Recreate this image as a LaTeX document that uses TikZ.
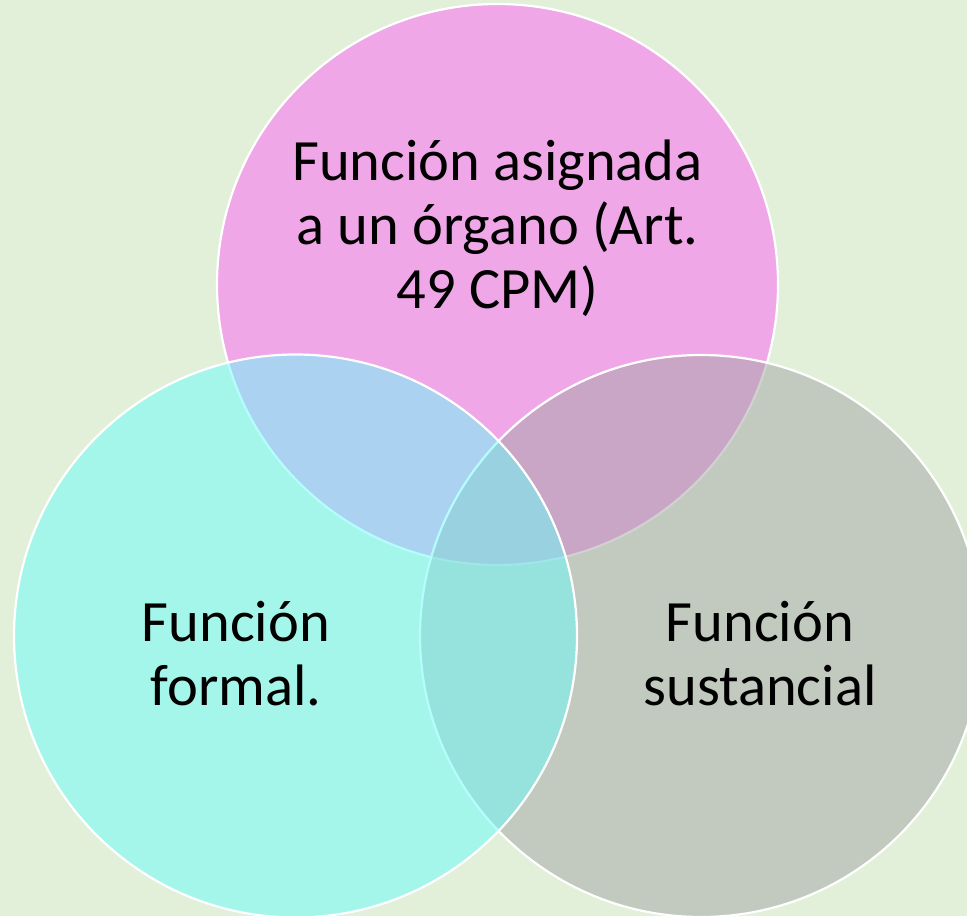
\documentclass[tikz,border=0pt]{standalone}
\usepackage{fontspec}
\setmainfont{Carlito}
\definecolor{bg}{RGB}{226,239,217}
\definecolor{pinkc}{RGB}{254,97,247}
\definecolor{grayc}{RGB}{164,165,165}
\definecolor{cyanc}{RGB}{106,253,251}
\begin{document}
\begin{tikzpicture}[x=1pt,y=-1pt,
  venn/.style={circle, draw=white, line width=2.2pt, fill opacity=0.5, draw opacity=1, inner sep=0pt},
  lbl/.style={align=center, text=black, font=\fontsize{58.5}{64}\selectfont, inner sep=0pt}]
\fill[bg] (0,0) rectangle (967,916);
\useasboundingbox (0,0) rectangle (967,916);
\node[venn, fill=pinkc, minimum size=561pt] (top) at (497.5,284.5) {};
\node[venn, fill=grayc, minimum size=562pt] (right) at (701,636) {};
\node[venn, fill=cyanc, minimum size=563pt] (left) at (295.5,636) {};
\node[lbl] (ttop) at (497.5,228) {Función asignada\\a un órgano (Art.\\49 CPM)};
\node[lbl] (tleft) at (236,654) {Función\\formal.};
\node[lbl] (tright) at (760,654) {Función\\sustancial};
\end{tikzpicture}
\end{document}
